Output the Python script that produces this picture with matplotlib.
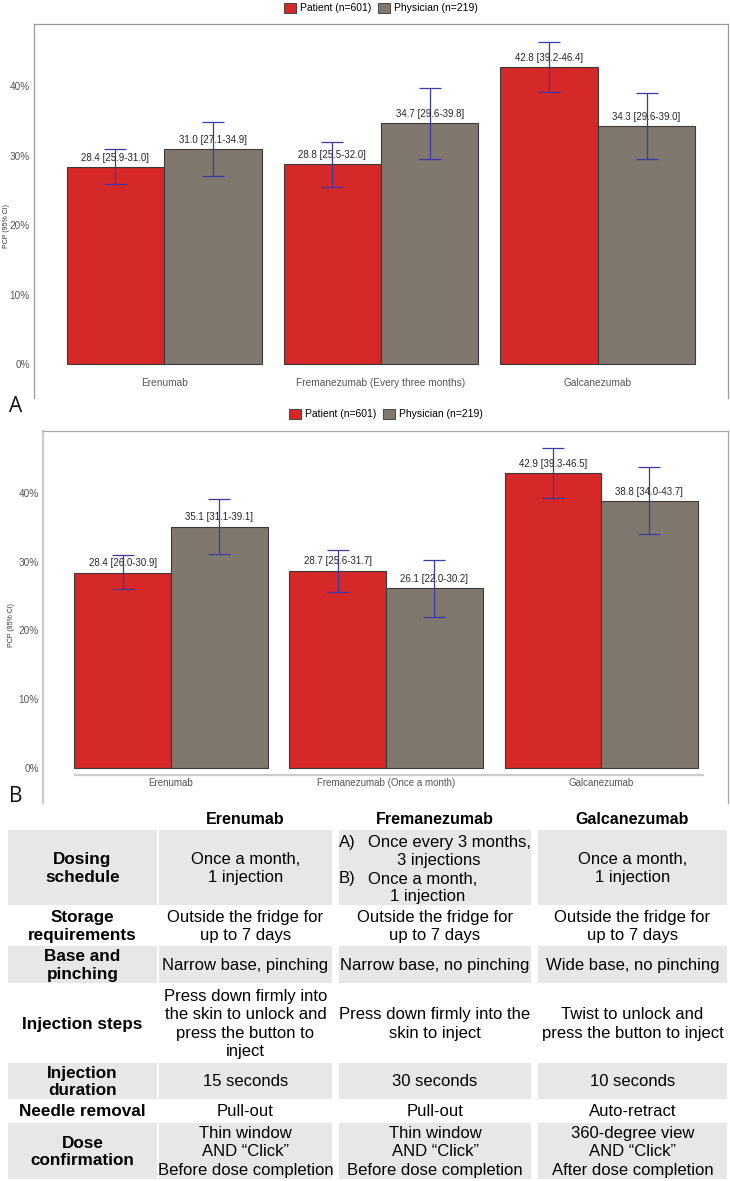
import numpy as np
import matplotlib
matplotlib.use("Agg")
import matplotlib.pyplot as plt
from matplotlib.patches import Patch, Rectangle

plt.rcParams['font.family'] = ['Liberation Sans', 'DejaVu Sans']

# --- chart data ---
groups = ['Patient (n=601)', 'Physician (n=219)']
cats_a = ['Erenumab', 'Fremanezumab (Every three months)', 'Galcanezumab']
pat_a = [28.4, 28.8, 42.8]
pat_a_lo = [25.9, 25.5, 39.2]
pat_a_hi = [31.0, 32.0, 46.4]
phy_a = [31.0, 34.7, 34.3]
phy_a_lo = [27.1, 29.6, 29.6]
phy_a_hi = [34.9, 39.8, 39.0]

cats_b = ['Erenumab', 'Fremanezumab (Once a month)', 'Galcanezumab']
pat_b = [28.4, 28.7, 42.9]
pat_b_lo = [26.0, 25.6, 39.3]
pat_b_hi = [30.9, 31.7, 46.5]
phy_b = [35.1, 26.1, 38.8]
phy_b_lo = [31.1, 22.0, 34.0]
phy_b_hi = [39.1, 30.2, 43.7]

yticks = [0, 10, 20, 30, 40]

# --- table data ---
tab_header = ['Erenumab', 'Fremanezumab', 'Galcanezumab']
tab_rows = ['Dosing\nschedule', 'Storage\nrequirements', 'Base and\npinching',
            'Injection steps', 'Injection\nduration', 'Needle removal',
            'Dose\nconfirmation']
col_erenumab = ['Once a month,\n1 injection', 'Outside the fridge for\nup to 7 days',
                'Narrow base, pinching',
                'Press down firmly into\nthe skin to unlock and\npress the button to\ninject',
                '15 seconds', 'Pull-out',
                'Thin window\nAND \u201cClick\u201d\nBefore dose completion']
col_fremanezumab = [None, 'Outside the fridge for\nup to 7 days',
                    'Narrow base, no pinching',
                    'Press down firmly into the\nskin to inject',
                    '30 seconds', 'Pull-out',
                    'Thin window\nAND \u201cClick\u201d\nBefore dose completion']
fre_dosing = [('A)', 'Once every 3 months,', '3 injections'),
              ('B)', 'Once a month,', '1 injection')]
col_galcanezumab = ['Once a month,\n1 injection', 'Outside the fridge for\nup to 7 days',
                    'Wide base, no pinching',
                    'Twist to unlock and\npress the button to inject',
                    '10 seconds', 'Auto-retract',
                    '360-degree view\nAND \u201cClick\u201d\nAfter dose completion']

RED = '#d52828'
GREY = '#80786e'
ERR = '#3a3aa6'
W, H = 730, 1181

fig = plt.figure(figsize=(W / 100, H / 100), dpi=100)


def px_axes(x0, y0, x1, y1):
    return fig.add_axes([x0 / W, 1 - y1 / H, (x1 - x0) / W, (y1 - y0) / H])


def bar_panel(ax, cats, pat, plo, phi, phy, qlo, qhi, ylim, xlim, lab_y, lab_fs):
    x = np.arange(len(cats))
    w = 0.449
    for vals, lo, hi, off, col in [(pat, plo, phi, -w / 2, RED), (phy, qlo, qhi, w / 2, GREY)]:
        vals = np.array(vals)
        ax.bar(x + off, vals, w, color=col, edgecolor='#3a3a3a', linewidth=0.8, zorder=2)
        err = [vals - np.array(lo), np.array(hi) - vals]
        ax.errorbar(x + off, vals, yerr=err, fmt='none', ecolor=ERR, elinewidth=0.9,
                    capsize=8, capthick=0.9, zorder=3)
        for xi, v, l, h in zip(x + off, vals, lo, hi):
            ax.annotate('%.1f [%.1f-%.1f]' % (v, l, h), (xi, v), xytext=(0, 3),
                        textcoords='offset points', ha='center', va='bottom',
                        fontsize=7, color='#262626', zorder=4)
    for xi, c in zip(x, cats):
        ax.text(xi, lab_y, c, ha='center', va='center', fontsize=lab_fs, color='#555555')
    ax.set_xlim(*xlim)
    ax.set_ylim(*ylim)
    ax.set_xticks([])
    ax.set_yticks(yticks)
    ax.set_yticklabels(['%d%%' % t for t in yticks])
    ax.tick_params(axis='y', length=0, pad=3, labelsize=7.2, labelcolor='#555555')
    ax.spines['bottom'].set_visible(False)
    return x, w


# panel A
axA = px_axes(34, 24, 728, 398)
bar_panel(axA, cats_a, pat_a, pat_a_lo, pat_a_hi, phy_a, phy_a_lo, phy_a_hi,
          (-4.9, 49), (-0.6, 2.6), -2.7, 7.3)
for s in ['top', 'left', 'right']:
    axA.spines[s].set_color('#9a9a9a')
    axA.spines[s].set_linewidth(0.9)

# panel B
axB = px_axes(43, 431, 728, 803)
xb, wb = bar_panel(axB, cats_b, pat_b, pat_b_lo, pat_b_hi, phy_b, phy_b_lo, phy_b_hi,
                   (-5.1, 49), (-0.595, 2.59), -2.2, 7)
for s in ['top', 'right']:
    axB.spines[s].set_color('#a8a8a8')
    axB.spines[s].set_linewidth(0.9)
axB.spines['left'].set_color('#cccccc')
axB.spines['left'].set_linewidth(1.6)
axB.hlines(-1, xb[0] - wb, xb[-1] + wb + 0.03, color='#cccccc', linewidth=1.6)

handles = [Patch(facecolor=RED, edgecolor='#333333', linewidth=0.6),
           Patch(facecolor=GREY, edgecolor='#333333', linewidth=0.6)]
for cx, cy in [(381, 8), (386, 414)]:
    fig.legend(handles, groups, loc='center', bbox_to_anchor=(cx / W, 1 - cy / H),
               ncol=2, frameon=False, fontsize=7.5, handlelength=1.15, handleheight=1.15,
               handletextpad=0.4, columnspacing=0.6, borderaxespad=0)

fig.text(7 / W, 1 - 226 / H, 'PCP (95% CI)', rotation=90, ha='center', va='center',
         fontsize=5, color='#333333')
fig.text(12 / W, 1 - 625 / H, 'PCP (95% CI)', rotation=90, ha='center', va='center',
         fontsize=5, color='#333333')
fig.text(16 / W, 1 - 407 / H, 'A', ha='center', va='center', fontsize=15,
         family='Open Sans', color='#111111')
fig.text(16 / W, 1 - 796 / H, 'B', ha='center', va='center', fontsize=15,
         family='Open Sans', color='#111111')

# table
axT = px_axes(0, 805, W, H)
axT.set_xlim(0, W)
axT.set_ylim(H, 805)
axT.axis('off')
col_l = [8, 159, 339, 538]
col_r = [157, 332, 531, 727]
row_e = [830, 905, 946, 983, 1063, 1099, 1123, 1179]
FS = 12
for j, h in enumerate(tab_header):
    axT.text((col_l[j + 1] + col_r[j + 1]) / 2, 820, h, ha='center', va='center',
             fontsize=11.5, fontweight='bold')
cols = [col_erenumab, col_fremanezumab, col_galcanezumab]
for i, lab in enumerate(tab_rows):
    y0, y1 = row_e[i], row_e[i + 1]
    cy = (y0 + y1) / 2
    if i % 2 == 0:
        for l, r in zip(col_l, col_r):
            axT.add_patch(Rectangle((l, y0), r - l, y1 - y0, facecolor='#e7e7e7',
                                    edgecolor='none'))
    axT.text((col_l[0] + col_r[0]) / 2, cy + 1, lab, ha='center', va='center',
             fontsize=12.3, fontweight='bold', linespacing=1.2)
    for j, col in enumerate(cols):
        txt = col[i]
        if txt is None:
            continue
        axT.text((col_l[j + 1] + col_r[j + 1]) / 2, cy + 1, txt, ha='center', va='center',
                 fontsize=FS, linespacing=1.28)

# Fremanezumab dosing: two list items with hanging lines
line_y = [843, 861, 879, 897]
sub_cx = [439, 428]
for k, (mark, first, second) in enumerate(fre_dosing):
    axT.text(339, line_y[2 * k], mark, ha='left', va='center', fontsize=FS)
    axT.text(368, line_y[2 * k], first, ha='left', va='center', fontsize=FS)
    axT.text(sub_cx[k], line_y[2 * k + 1], second, ha='center', va='center', fontsize=FS)

fig.savefig('out.png', dpi=100, facecolor='white')
